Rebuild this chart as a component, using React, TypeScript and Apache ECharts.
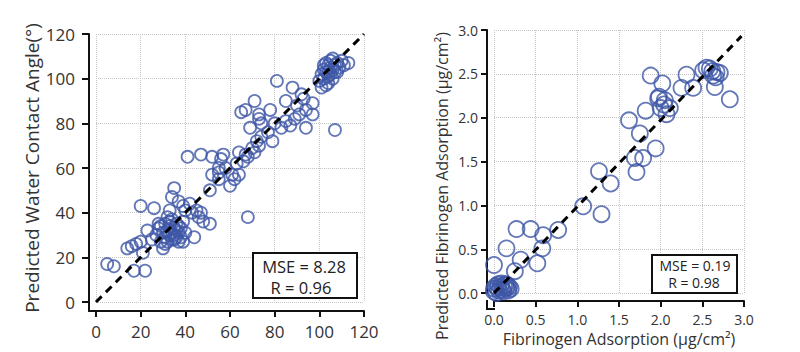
import React, { useEffect, useRef } from "react";
import * as echarts from "echarts";

// Left panel: water contact angle (measured vs predicted), degrees
const waterMeasured = [
  5, 8, 17, 22, 14, 16, 18, 21, 20, 23, 20, 26, 25, 27, 28, 29, 30, 30, 31, 31,
  32, 32, 33, 33, 34, 34, 34, 35, 35, 36, 36, 36, 37, 37, 38, 38, 39, 39, 40, 32,
  33, 34, 35, 37, 39, 40, 42, 43, 44, 45, 46, 47, 48, 51, 29, 31, 33, 35, 37, 28,
  41, 47, 52, 57, 56, 55, 55, 52, 51, 55, 58, 60, 61, 63, 64, 64, 66, 67, 68, 70,
  72, 74, 71, 73, 68, 62,
  65, 67, 71, 73, 73, 69, 74, 78, 77, 79, 81, 85, 88, 83, 85, 89, 92, 94, 94, 97,
  97, 91, 93, 90, 87, 80, 107,
  100, 102, 101, 102, 103, 104, 104, 105, 105, 106, 106, 107, 103, 108, 108, 109,
  110, 111, 113, 104, 106, 103, 101, 105, 107, 102, 104,
];
const waterPredicted = [
  17, 16, 14, 14, 24, 25, 26, 22, 27, 32, 43, 42, 28, 30, 33, 27, 31, 24, 35, 29,
  32, 27, 30, 34, 31, 28, 37, 33, 30, 32, 29, 35, 31, 27, 33, 29, 36, 27, 31, 38,
  41, 47, 51, 45, 43, 41, 44, 40, 29, 41, 38, 40, 36, 35, 34, 26, 36, 28, 34, 35,
  65, 66, 65, 66, 64, 60, 58, 57, 50, 55, 60, 52, 57, 62, 57, 67, 63, 66, 65, 69,
  72, 74, 67, 70, 38, 55,
  85, 86, 90, 84, 82, 78, 80, 86, 76, 72, 99, 90, 96, 78, 81, 82, 93, 86, 78, 84,
  89, 84, 91, 88, 79, 80, 77,
  99, 100, 102, 104, 103, 106, 101, 105, 108, 104, 109, 106, 107, 103, 107, 105,
  108, 106, 107, 98, 100, 97, 96, 102, 103, 106, 103,
];

// Right panel: fibrinogen adsorption (measured vs predicted), µg/cm²
const fibMeasured = [
  0.0, 0.15, 0.27, 0.44, 0.59, 0.58, 0.52, 0.32, 0.25, 0.77, 1.07, 1.29, 1.26,
  1.4, 1.62, 1.69, 1.71, 1.79, 1.75, 1.94, 1.82, 1.88, 2.02, 1.97, 2.0, 2.07,
  2.11, 2.05, 1.98, 2.04, 2.25, 2.31, 2.39, 2.51, 2.59, 2.63, 2.71, 2.65, 2.83,
  2.67, 2.62, 2.66, 2.55,
  0.0, 0.02, 0.05, 0.08, 0.1, 0.12, 0.15, 0.17, 0.0, 0.03, 0.06, 0.14, 0.18,
  0.2, 0.09, 0.11, 0.04, 0.16,
];
const fibPredicted = [
  0.32, 0.51, 0.73, 0.73, 0.66, 0.51, 0.34, 0.38, 0.25, 0.72, 0.99, 0.9, 1.39,
  1.25, 1.97, 1.54, 1.38, 1.54, 1.82, 1.65, 2.08, 2.48, 2.39, 2.22, 2.11, 2.04,
  2.11, 2.2, 2.24, 2.15, 2.34, 2.49, 2.34, 2.54, 2.56, 2.48, 2.51, 2.35, 2.21,
  2.52, 2.53, 2.46, 2.57,
  0.05, 0.08, 0.1, 0.07, 0.04, 0.09, 0.06, 0.03, 0.02, 0.0, 0.03, 0.1, 0.07,
  0.05, 0.11, 0.02, 0.06, 0.09,
];

const waterIdentity = [[0, 0], [120, 120]];
const fibIdentity = [[0, 0], [2.97, 2.93]];

const waterTicks = { min: 0, max: 120, interval: 20 };
const fibTicks = { min: 0, max: 3, interval: 0.5 };

const statsLeft = ["MSE = 8.28", "R = 0.96"];
const statsRight = ["MSE = 0.19", "R = 0.98"];

const leftYName = "Predicted Water Contact Angle(°)";
const rightYName = "Predicted Fibrinogen Adsorption (μg/cm²)";
const rightXName = "Fibrinogen Adsorption (μg/cm²)";

const BLUE = "#3d56a6";
const FONT = "Open Sans";

function pairs(xs: number[], ys: number[]) {
  return xs.map((x, i) => [x, ys[i]]);
}

export default function App() {
  const ref = useRef<HTMLDivElement>(null);

  useEffect(() => {
    if (!ref.current) return;
    const chart = echarts.init(ref.current, null, { renderer: "svg" });

    const axisBase = (tickLen: number) => ({
      type: "value" as const,
      axisLine: { show: true, onZero: false, lineStyle: { color: "#111", width: 2 } },
      axisTick: { show: true, length: tickLen, lineStyle: { color: "#111", width: 2 } },
      splitLine: { show: true, lineStyle: { color: "#c4c4c4", type: "dotted", width: 1 } },
    });

    const boxText = (text: string, x: number, y: number, size: number) => ({
      type: "text",
      x,
      y,
      style: {
        text,
        font: `${size}px "${FONT}"`,
        fill: "#222",
        textAlign: "center",
        textVerticalAlign: "middle",
      },
      z: 11,
    });

    const option: any = {
      animation: false,
      backgroundColor: "#fff",
      grid: [
        { left: 96, top: 34, width: 268, height: 268 },
        { left: 494, top: 30, width: 250, height: 271 },
      ],
      xAxis: [
        {
          ...axisBase(6),
          gridIndex: 0,
          ...waterTicks,
          offset: 9,
          axisLabel: { fontSize: 17, color: "#333", margin: 12, fontFamily: FONT },
        },
        {
          ...axisBase(6),
          gridIndex: 1,
          ...fibTicks,
          offset: 8,
          name: rightXName,
          nameLocation: "middle",
          nameGap: 25,
          nameTextStyle: { fontSize: 16, color: "#333", fontFamily: FONT },
          axisLabel: {
            fontSize: 14,
            color: "#333",
            margin: 11,
            fontFamily: FONT,
            formatter: (v: number) => v.toFixed(1),
          },
        },
      ],
      yAxis: [
        {
          ...axisBase(7),
          gridIndex: 0,
          ...waterTicks,
          offset: 7,
          name: leftYName,
          nameLocation: "middle",
          nameGap: 48,
          nameTextStyle: { fontSize: 19, color: "#333", fontFamily: FONT },
          axisLabel: { fontSize: 17, color: "#333", margin: 14, fontFamily: FONT },
        },
        {
          ...axisBase(6),
          gridIndex: 1,
          ...fibTicks,
          offset: 7,
          axisLabel: {
            fontSize: 14,
            color: "#333",
            margin: 9,
            fontFamily: FONT,
            formatter: (v: number) => v.toFixed(1),
          },
        },
      ],
      series: [
        {
          type: "scatter",
          xAxisIndex: 0,
          yAxisIndex: 0,
          data: pairs(waterMeasured, waterPredicted),
          symbol: "circle",
          symbolSize: 12,
          itemStyle: { color: "rgba(0,0,0,0)", borderColor: BLUE, borderWidth: 1.8 },
          z: 2,
        },
        {
          type: "line",
          xAxisIndex: 0,
          yAxisIndex: 0,
          data: waterIdentity,
          symbol: "none",
          lineStyle: { color: "#000", width: 3, type: [8, 6] },
          z: 3,
        },
        {
          type: "scatter",
          xAxisIndex: 1,
          yAxisIndex: 1,
          data: pairs(fibMeasured, fibPredicted),
          symbol: "circle",
          symbolSize: 16,
          itemStyle: { color: "rgba(0,0,0,0)", borderColor: BLUE, borderWidth: 1.8 },
          z: 2,
        },
        {
          type: "line",
          xAxisIndex: 1,
          yAxisIndex: 1,
          data: fibIdentity,
          symbol: "none",
          lineStyle: { color: "#000", width: 3, type: [8, 6] },
          z: 3,
        },
      ],
      graphic: [
        // axis corner joins
        { type: "line", shape: { x1: 89, y1: 301, x2: 89, y2: 312 }, style: { stroke: "#111", lineWidth: 2 } },
        { type: "line", shape: { x1: 88, y1: 311, x2: 97, y2: 311 }, style: { stroke: "#111", lineWidth: 2 } },
        { type: "line", shape: { x1: 487, y1: 300, x2: 487, y2: 310 }, style: { stroke: "#111", lineWidth: 2 } },
        { type: "line", shape: { x1: 486, y1: 309, x2: 495, y2: 309 }, style: { stroke: "#111", lineWidth: 2 } },
        // right y-axis title (sits lower than the axis centre in the reference)
        {
          type: "text",
          x: 442,
          y: 186,
          rotation: Math.PI / 2,
          style: {
            text: rightYName,
            font: `16px "${FONT}"`,
            fill: "#333",
            textAlign: "center",
            textVerticalAlign: "middle",
          },
        },
        // stats boxes
        {
          type: "rect",
          shape: { x: 253, y: 253, width: 104, height: 45 },
          style: { fill: "#fff", stroke: "#111", lineWidth: 2 },
          z: 10,
        },
        boxText(statsLeft[0], 304, 266.5, 16.5),
        boxText(statsLeft[1], 301, 287.5, 16.5),
        {
          type: "rect",
          shape: { x: 652, y: 255, width: 85, height: 38 },
          style: { fill: "#fff", stroke: "#111", lineWidth: 2 },
          z: 10,
        },
        boxText(statsRight[0], 695, 265, 14),
        boxText(statsRight[1], 694, 282.5, 14),
      ],
    };

    chart.setOption(option);
    return () => chart.dispose();
  }, []);

  return <div ref={ref} style={{ width: 800, height: 352, position: "absolute", left: 0, top: 0 }} />;
}
